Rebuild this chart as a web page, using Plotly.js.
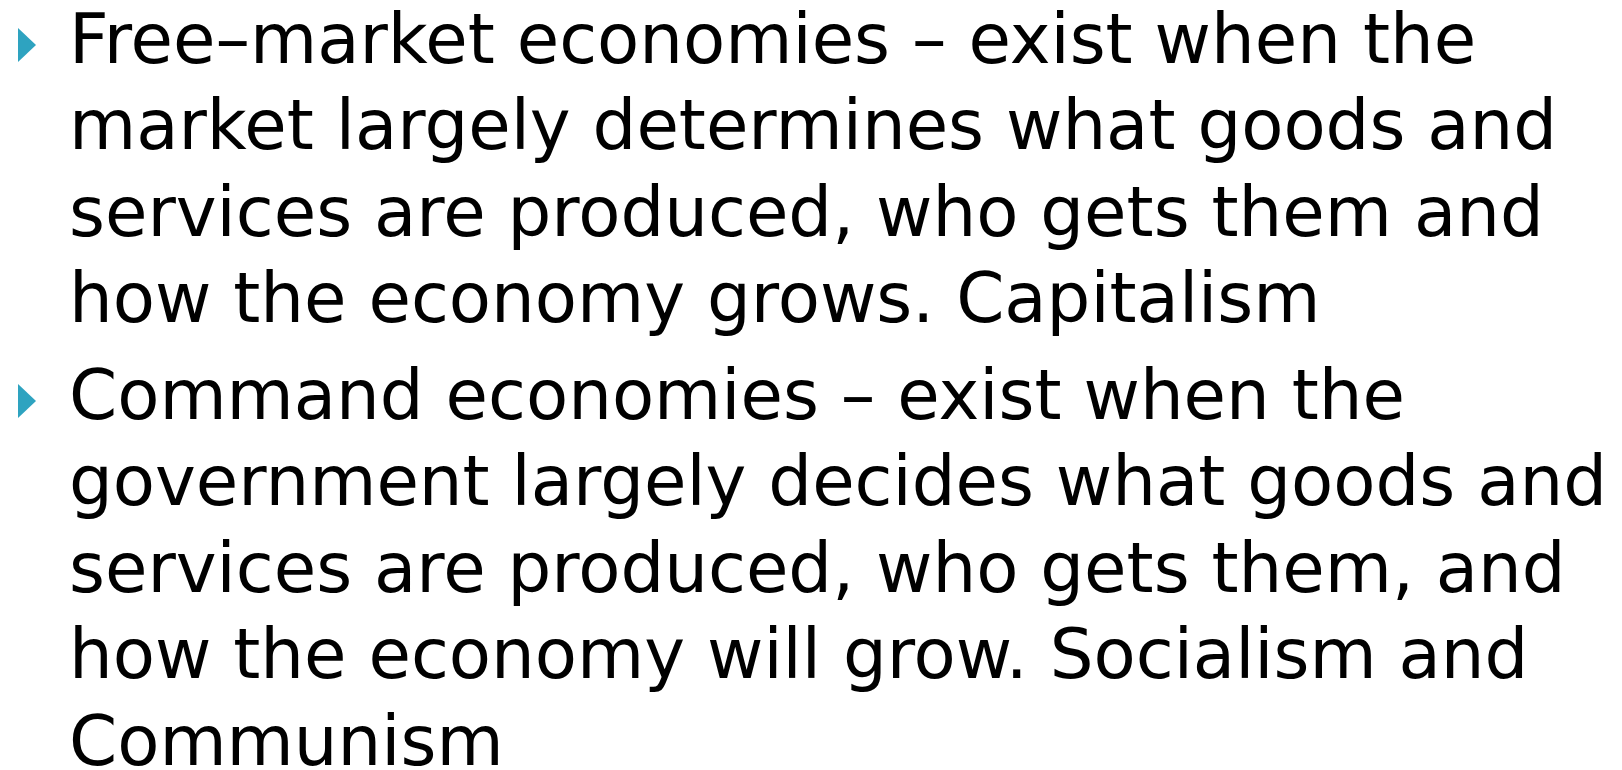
<!DOCTYPE html>
<html>
<head>
<meta charset="utf-8">
<script src="https://cdn.plot.ly/plotly-3.0.1.min.js"></script>
<style>
  html, body { margin: 0; padding: 0; background: #ffffff; }
  #chart { width: 1622px; height: 770px; }
</style>
</head>
<body>
<div id="chart"></div>
<script>
// Slide content: one array of wrapped lines per bullet point
const bullet1Lines = [
  "Free–market economies – exist when the",
  "market largely determines what goods and",
  "services are produced, who gets them and",
  "how the economy grows. Capitalism"
];
const bullet2Lines = [
  "Command economies – exist when the",
  "government largely decides what goods and",
  "services are produced, who gets them, and",
  "how the economy will grow. Socialism and",
  "Communism"
];
const bullets = [bullet1Lines, bullet2Lines];

// Layout / style constants
const W = 1622, H = 770;
const linePitch = 86.4;        // px per line
const firstLineCenter = 39;    // px from top
const paragraphGap = 0.12;     // extra line units between bullets
const textX = 67 / W;          // paper fraction
const fontSize = 69;
const bulletColor = "#2EA3C0";

// Build positions of lines on a "line index" axis
const annotations = [];
const shapes = [];
let lineIdx = 0;
bullets.forEach((lines, p) => {
  lines.forEach((txt, j) => {
    const y = lineIdx + p * paragraphGap;
    if (j === 0) {
      shapes.push({
        type: "path",
        xref: "paper", yref: "y",
        xsizemode: "pixel", ysizemode: "pixel",
        xanchor: 0, yanchor: y,
        path: "M18,11 L36,-6 L18,-23 Z",
        fillcolor: bulletColor,
        line: { width: 0 }
      });
    }
    annotations.push({
      xref: "paper", yref: "y",
      x: textX, y: y,
      xanchor: "left", yanchor: "middle",
      text: txt,
      showarrow: false,
      align: "left",
      font: { family: "DejaVu Sans", size: fontSize, color: "#000000" }
    });
    lineIdx += 1;
  });
});

const yTop = -firstLineCenter / linePitch;
const yBottom = (H - firstLineCenter) / linePitch;

const layout = {
  width: W, height: H,
  margin: { l: 0, r: 0, t: 0, b: 0, pad: 0 },
  paper_bgcolor: "#ffffff",
  plot_bgcolor: "#ffffff",
  showlegend: false,
  xaxis: { range: [0, 1], visible: false, fixedrange: true },
  yaxis: { range: [yBottom, yTop], visible: false, fixedrange: true },
  annotations: annotations,
  shapes: shapes
};

Plotly.newPlot("chart", [], layout, { displayModeBar: false, staticPlot: true });
</script>
</body>
</html>
